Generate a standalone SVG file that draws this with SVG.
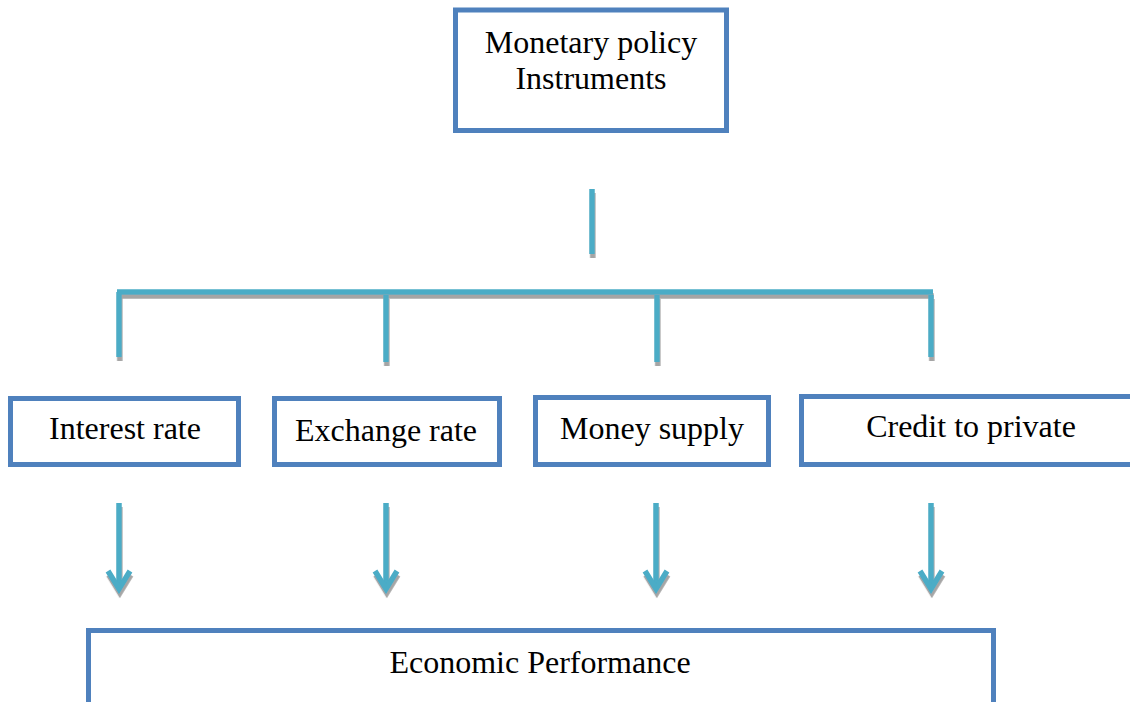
<svg xmlns="http://www.w3.org/2000/svg" width="1130" height="702" viewBox="0 0 1130 702">
  <style>
    .box { fill: #ffffff; stroke: #4f81bd; stroke-width: 5; }
    .label { font-family: "Liberation Serif", "Times New Roman", serif; font-size: 32px; fill: #000000; text-anchor: middle; }
    .conn { fill: none; stroke: #4bacc6; stroke-width: 5.5; stroke-linecap: butt; }
    .head { fill: none; stroke: #4bacc6; stroke-width: 5.5; stroke-linejoin: miter; stroke-miterlimit: 10; }
  </style>
  <defs>
    <filter id="shade" x="-20%" y="-20%" width="140%" height="160%">
      <feDropShadow dx="0.8" dy="4" stdDeviation="0" flood-color="#a5a5a5" flood-opacity="1"/>
    </filter>
  </defs>
  <rect width="1130" height="702" fill="#ffffff"/>

  <!-- connectors: tree bracket and downward arrows -->
  <g id="connectors" filter="url(#shade)">
    <line class="conn" x1="592" y1="189" x2="592" y2="254"/>
    <line class="conn" x1="117" y1="292" x2="933" y2="292"/>
    <line class="conn" x1="119" y1="292" x2="119" y2="357"/>
    <line class="conn" x1="386" y1="295" x2="386" y2="362"/>
    <line class="conn" x1="657" y1="295" x2="657" y2="362"/>
    <line class="conn" x1="931" y1="295" x2="931" y2="357"/>

    <line class="conn" x1="119" y1="503" x2="119" y2="588"/>
    <polyline class="head" points="108,571 119,589 130,571"/>
    <line class="conn" x1="386" y1="503" x2="386" y2="588"/>
    <polyline class="head" points="375,571 386,589 397,571"/>
    <line class="conn" x1="656" y1="503" x2="656" y2="588"/>
    <polyline class="head" points="645,571 656,589 667,571"/>
    <line class="conn" x1="931" y1="503" x2="931" y2="588"/>
    <polyline class="head" points="920,571 931,589 942,571"/>
  </g>

  <g id="node-instruments">
    <rect class="box" x="455.5" y="10" width="271" height="120.5"/>
    <text class="label" x="591" y="53">Monetary policy</text>
    <text class="label" x="591" y="89">Instruments</text>
  </g>

  <g id="node-interest">
    <rect class="box" x="10.5" y="398.5" width="228" height="66"/>
    <text class="label" x="125" y="439">Interest rate</text>
  </g>

  <g id="node-exchange">
    <rect class="box" x="274.5" y="398.5" width="225" height="66"/>
    <text class="label" x="386" y="441">Exchange rate</text>
  </g>

  <g id="node-money">
    <rect class="box" x="535.5" y="397.5" width="233" height="67"/>
    <text class="label" x="652" y="439">Money supply</text>
  </g>

  <g id="node-credit">
    <rect class="box" x="801.5" y="396.5" width="340" height="68"/>
    <text class="label" x="971" y="437">Credit to private</text>
  </g>

  <g id="node-performance">
    <rect class="box" x="88.5" y="630.5" width="905" height="100"/>
    <text class="label" x="540" y="673">Economic Performance</text>
  </g>
</svg>
